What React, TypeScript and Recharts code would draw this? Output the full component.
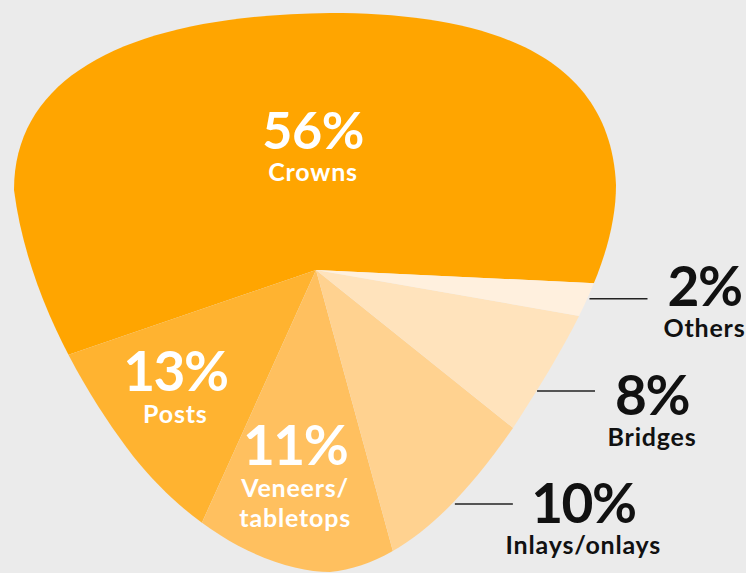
import { PieChart, Pie, Cell } from 'recharts';

const categories = ['Crowns', 'Posts', 'Veneers/tabletops', 'Inlays/onlays', 'Bridges', 'Others'];
const shares = [56, 13, 11, 10, 8, 2];
const nameLines = [['Crowns'], ['Posts'], ['Veneers/', 'tabletops'], ['Inlays/onlays'], ['Bridges'], ['Others']];
const colors = ['#FFA500', '#FFB330', '#FFC05F', '#FFD290', '#FFE3BC', '#FFF0DE'];

const data = categories.map((name, i) => ({ name, value: shares[i] }));

// rounded-triangle outline the pie is cut to
const blobPath =
  'M 14 190 C 14 70, 140 15, 330 13 C 480 13, 610 50, 616 185 ' +
  'C 616 260, 570 340, 513 428 C 460 505, 400 565, 330 572 ' +
  'C 280 572, 200 540, 133 456 C 90 400, 28 300, 14 190 Z';

// where each label sits, relative to its slice's mid angle
const labelSpots = [
  { inside: true, r: 140, da: -6.9, dy: 0 },
  { inside: true, r: 173, da: -6.7, dy: 0 },
  { inside: true, r: 176, da: -2.3, dy: 0 },
  { inside: false, r: 272, da: -2.6, dy: -1 },
  { inside: false, r: 252, da: -4.4, dy: 4 },
  { inside: false, r: 275, da: 0.3, dy: -13 },
];

const RAD = Math.PI / 180;
const FONT = 'Lato, "Open Sans", sans-serif';

function renderLabel(props: any) {
  const { cx, cy, midAngle, index } = props;
  const spot = labelSpots[index];
  const a = (midAngle + spot.da) * RAD;
  const x = cx + spot.r * Math.cos(a);
  const y = cy - spot.r * Math.sin(a);
  const pct = `${shares[index]}%`;
  const lines = nameLines[index];

  if (spot.inside) {
    const numSize = index === 0 ? 52 : 55;
    const base = y + numSize * 0.36;
    return (
      <g key={`lbl-${index}`} fontFamily={FONT}>
        <text x={x} y={base} textAnchor="middle" fill="#fff" fontSize={numSize} fontWeight={700} letterSpacing={index === 0 ? -0.5 : -1.5}>
          {pct}
        </text>
        {lines.map((l, j) => (
          <text key={j} x={x} y={base + 32 + j * 30} textAnchor="middle" fill="#fff" fontSize={25} fontWeight={700} letterSpacing={0.8}>
            {l}
          </text>
        ))}
      </g>
    );
  }

  const lineEnd = x + 58;
  const halfW = (27 * (pct.length - 1) + 47) / 2;
  const tx = lineEnd + 20 + halfW;
  const base = y + spot.dy + 20;
  return (
    <g key={`lbl-${index}`} fontFamily={FONT}>
      <line x1={x} y1={y} x2={lineEnd} y2={y} stroke="#222" strokeWidth={1.5} />
      <text x={tx} y={base} textAnchor="middle" fill="#111" fontSize={55} fontWeight={700} letterSpacing={-1.5}>
        {pct}
      </text>
      {lines.map((l, j) => (
        <text key={j} x={tx} y={base + 31 + j * 30} textAnchor="middle" fill="#111" fontSize={25} fontWeight={700} letterSpacing={0.8}>
          {l}
        </text>
      ))}
    </g>
  );
}

export default function App() {
  return (
    <div style={{ position: 'absolute', left: 0, top: 0, width: 746, height: 573, background: '#EBEBEB' }}>
      <style>{`.blob-pie .recharts-sector { clip-path: url(#blob); }`}</style>
      <svg width={0} height={0} style={{ position: 'absolute' }}>
        <defs>
          <clipPath id="blob" clipPathUnits="userSpaceOnUse">
            <path d={blobPath} />
          </clipPath>
        </defs>
      </svg>
      <PieChart width={746} height={573} margin={{ top: 0, right: 0, bottom: 0, left: 0 }}>
        <Pie
          className="blob-pie"
          data={data}
          dataKey="value"
          nameKey="name"
          cx={316}
          cy={270}
          innerRadius={0}
          outerRadius={400}
          startAngle={-2.7}
          endAngle={357.3}
          stroke="none"
          label={renderLabel}
          labelLine={false}
          isAnimationActive={false}
        >
          {data.map((d, i) => (
            <Cell key={d.name} fill={colors[i]} />
          ))}
        </Pie>
      </PieChart>
    </div>
  );
}
